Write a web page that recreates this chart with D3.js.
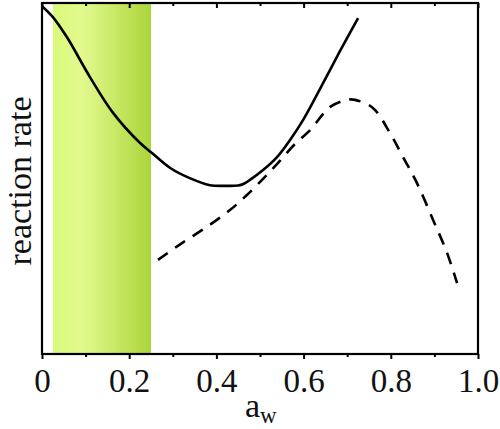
<!DOCTYPE html>
<html>
<head>
<meta charset="utf-8">
<script src="https://cdn.jsdelivr.net/npm/d3@7"></script>
<style>
  html, body { margin: 0; padding: 0; background: #fff; }
  svg text { font-family: 'Liberation Serif', 'DejaVu Serif', 'Times New Roman', Times, serif !important; }
</style>
</head>
<body>
<svg id="chart" width="500" height="429"></svg>
<script>
// values (rate in arbitrary units, 0..1 of the frame height)
const solidAw   = [0, 0.025, 0.057, 0.110, 0.163, 0.225, 0.250, 0.294, 0.339, 0.385, 0.420, 0.450, 0.463, 0.477, 0.507, 0.539, 0.569, 0.599, 0.638, 0.683, 0.725];
const solidRate = [0.991, 0.960, 0.903, 0.789, 0.687, 0.601, 0.575, 0.530, 0.501, 0.481, 0.479, 0.480, 0.485, 0.496, 0.524, 0.561, 0.610, 0.667, 0.756, 0.862, 0.957];

const dashAw   = [0.266, 0.321, 0.378, 0.431, 0.470, 0.507, 0.541, 0.580, 0.615, 0.661, 0.700, 0.718, 0.759, 0.798, 0.828, 0.860, 0.897, 0.929, 0.952];
const dashRate = [0.268, 0.316, 0.362, 0.410, 0.453, 0.499, 0.544, 0.598, 0.638, 0.704, 0.724, 0.724, 0.701, 0.630, 0.561, 0.487, 0.382, 0.288, 0.202];

const bandRange = [0.025, 0.25];
const xTicks = [0, 0.2, 0.4, 0.6, 0.8, 1.0];
const xTickLabels = ['0', '0.2', '0.4', '0.6', '0.8', '1.0'];
const xMinor = [0.1, 0.3, 0.5, 0.7, 0.9];

const L = 42, R = 478, T = 3, B = 354;
const SERIF = "'Liberation Serif', 'DejaVu Serif', 'Times New Roman', Times, serif";

const svg = d3.select('#chart');
const x = d3.scaleLinear().domain([0, 1]).range([L, R]);
const y = d3.scaleLinear().domain([0, 1]).range([B, T]);

// gradient for the highlighted band
const defs = svg.append('defs');
const grad = defs.append('linearGradient').attr('id', 'band').attr('x1', '0%').attr('x2', '100%');
grad.append('stop').attr('offset', '0%').attr('stop-color', '#dafa7c');
grad.append('stop').attr('offset', '30%').attr('stop-color', '#e2fa8e');
grad.append('stop').attr('offset', '100%').attr('stop-color', '#acd53a');

svg.append('rect')
  .attr('x', x(bandRange[0])).attr('y', y(1))
  .attr('width', x(bandRange[1]) - x(bandRange[0]))
  .attr('height', y(0) - y(1))
  .attr('fill', 'url(#band)');

const line = d3.line().x(d => x(d[0])).y(d => y(d[1])).curve(d3.curveCatmullRom.alpha(0.5));

svg.append('path')
  .datum(d3.zip(solidAw, solidRate))
  .attr('d', line)
  .attr('fill', 'none').attr('stroke', '#000').attr('stroke-width', 2.6);

svg.append('path')
  .datum(d3.zip(dashAw, dashRate))
  .attr('d', line)
  .attr('fill', 'none').attr('stroke', '#000').attr('stroke-width', 2.6)
  .attr('stroke-dasharray', '12 9');

// bottom axis: ticks outward
const bottom = svg.append('g').attr('transform', `translate(0,${B})`)
  .call(d3.axisBottom(x).tickValues(xTicks).tickSize(5).tickFormat((d, i) => xTickLabels[i]).tickPadding(10));
bottom.attr('font-family', null);
bottom.select('.domain').remove();
bottom.selectAll('.tick line').attr('stroke', '#000').attr('stroke-width', 2);
bottom.selectAll('.tick text')
  .style('font-family', SERIF).attr('font-size', 33).attr('fill', '#111');

svg.append('g').attr('transform', `translate(0,${B})`)
  .call(d3.axisBottom(x).tickValues(xMinor).tickSize(3).tickFormat(''))
  .call(g => g.select('.domain').remove())
  .selectAll('.tick line').attr('stroke', '#000').attr('stroke-width', 2);

// top axis: ticks inward
svg.append('g').attr('transform', `translate(0,${T})`)
  .call(d3.axisBottom(x).tickValues(xTicks).tickSize(5).tickFormat(''))
  .call(g => g.select('.domain').remove())
  .selectAll('.tick line').attr('stroke', '#000').attr('stroke-width', 2);
svg.append('g').attr('transform', `translate(0,${T})`)
  .call(d3.axisBottom(x).tickValues(xMinor).tickSize(3).tickFormat(''))
  .call(g => g.select('.domain').remove())
  .selectAll('.tick line').attr('stroke', '#000').attr('stroke-width', 2);

// frame
svg.append('rect')
  .attr('x', L).attr('y', T).attr('width', R - L).attr('height', B - T)
  .attr('fill', 'none').attr('stroke', '#000').attr('stroke-width', 2.2);

// axis titles
const xt = svg.append('text')
  .attr('x', 245).attr('y', 417)
  .style('font-family', SERIF)
  .attr('font-size', 34).attr('fill', '#111');
xt.append('tspan').text('a');
xt.append('tspan').attr('font-size', 23).attr('dy', 6).text('w');

svg.append('text')
  .attr('transform', 'translate(31,181) rotate(-90)')
  .attr('text-anchor', 'middle')
  .style('font-family', SERIF)
  .attr('font-size', 34).attr('fill', '#111')
  .text('reaction rate');
</script>
</body>
</html>
